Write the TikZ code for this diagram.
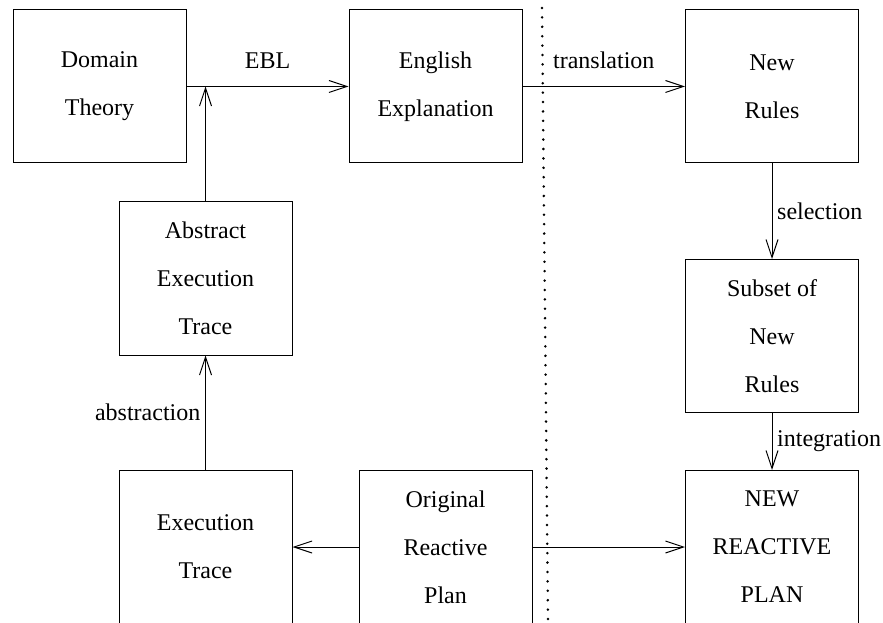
\documentclass[tikz,border=0pt]{standalone}
\usepackage{fontspec}
\setmainfont{Liberation Serif}
\usetikzlibrary{arrows.meta}

\begin{document}
\begin{tikzpicture}[x=25pt, y=25pt,
  box/.style={draw, line width=0.5pt, minimum width=86.5pt, minimum height=76.5pt,
    align=center, font=\fontsize{12}{24}\selectfont},
  arr/.style={line width=0.5pt, -{Straight Barb[length=9pt, width=6pt]}},
  lbl/.style={font=\fontsize{12}{14}\selectfont}]
\useasboundingbox (0,0) rectangle (17.66,12.44);

% Draw the boxes of the top row
\node[box] (dt) at (1.99,10.71) {Domain\\Theory};
\node[box] (ee) at (8.71,10.71) {English\\Explanation};
\node[box] (nr) at (15.44,10.71) {New\\Rules};

% Draw the boxes of the middle row
\node[box] (abs) at (4.11,6.87) {Abstract\\Execution\\Trace};
\node[box] (sub) at (15.44,5.72) {Subset of\\New\\Rules};

% Draw the boxes of the bottom row
\node[box] (exec) at (4.11,1.5) {Execution\\Trace};
\node[box] (orig) at (8.91,1.5) {Original\\Reactive\\Plan};
\node[box] (nrp) at (15.44,1.5) {NEW\\REACTIVE\\PLAN};

% Dotted divider
\draw[line width=1.4pt, line cap=round, dash pattern=on 0pt off 4.7pt] (10.84,12.28) -- (10.96,0.04);

% Arrows of the top row
\draw[arr] (dt) -- node[lbl, above=5.5pt] {EBL} (ee);
\draw[arr] (ee) -- node[lbl, above=5.5pt] {translation} (nr);
\coordinate (join) at (abs.north |- dt.east);
\draw[arr] (abs) -- (join);

% Arrows down the right column
\draw[arr] (nr) -- node[lbl, right=-1pt] {selection} (sub);
\draw[arr] (sub) -- node[lbl, right=-1pt] {integration} (nrp);

% Arrows from the original plan
\draw[arr] (exec) -- node[lbl, left=-1pt] {abstraction} (abs);
\draw[arr] (orig) -- (exec);
\draw[arr] (orig) -- (nrp);
\end{tikzpicture}
\end{document}
